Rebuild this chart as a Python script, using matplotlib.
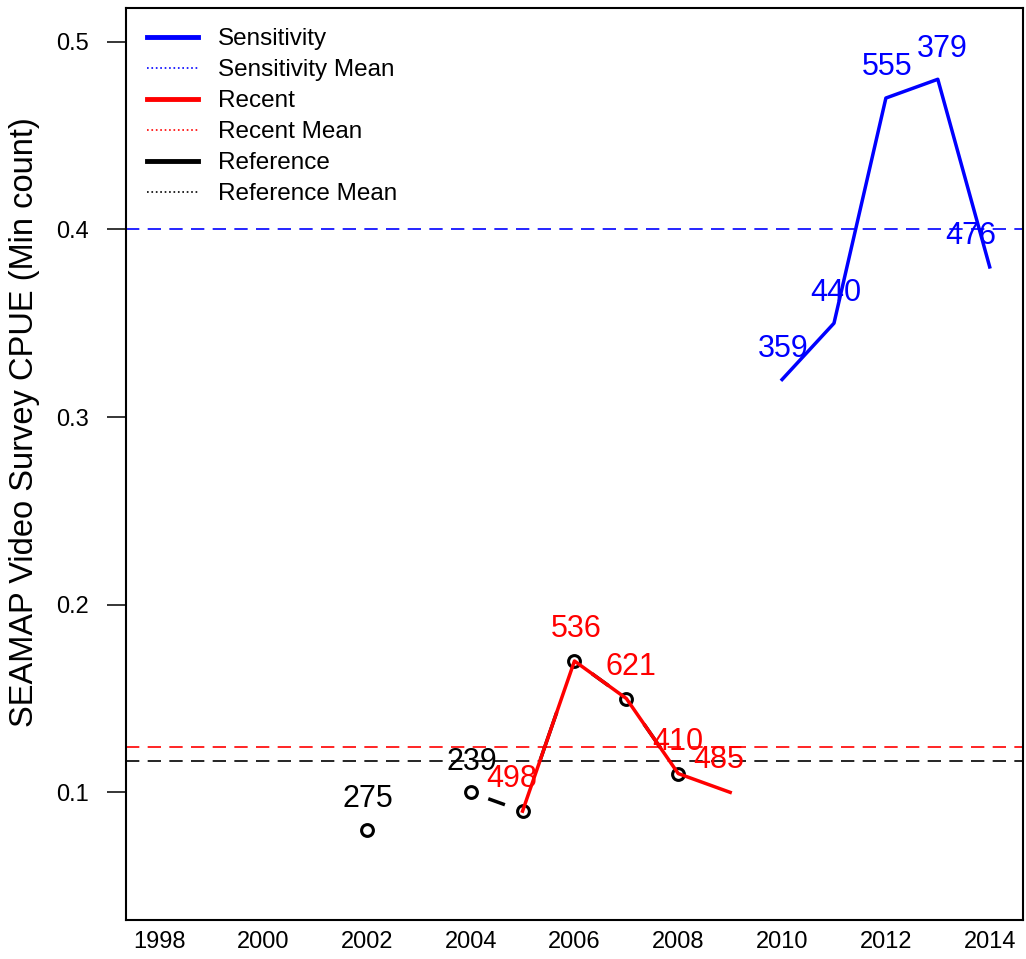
import numpy as np
import matplotlib
matplotlib.use("Agg")
import matplotlib.pyplot as plt
from matplotlib.lines import Line2D

plt.rcParams['font.family'] = ['Liberation Sans', 'DejaVu Sans']

# данные
sens_years = [2010, 2011, 2012, 2013, 2014]
sens_cpue = [0.32, 0.35, 0.47, 0.48, 0.38]
sens_n = ["359", "440", "555", "379", "476"]

recent_years = [2005, 2006, 2007, 2008, 2009]
recent_cpue = [0.09, 0.17, 0.15, 0.11, 0.10]
recent_n = ["498", "536", "621", "410", "485"]

ref_years = [2002, 2003, 2004, 2005, 2006, 2007, 2008]
ref_cpue = [0.08, np.nan, 0.10, 0.09, 0.17, 0.15, 0.11]
ref_n = ["275", "", "239", "", "", "", ""]

x_ticks = [1998, 2000, 2002, 2004, 2006, 2008, 2010, 2012, 2014]
y_ticks = [0.1, 0.2, 0.3, 0.4, 0.5]

# сдвиг подписей по x (в точках)
sens_dx = [1, 1, 1, 3, -14]
recent_dx = [-8, 1, 3, 0, -8]

BLUE = "#0000ff"
RED = "#ff0000"

fig = plt.figure(figsize=(10.26, 9.59), dpi=100)
ax = fig.add_axes([0.1228, 0.0407, 0.8742, 0.951])
ax.set_xlim(1997.36, 2014.64)
ax.set_ylim(0.032, 0.518)

# средние
ax.axhline(np.nanmean(sens_cpue), color=BLUE, lw=1.2, ls=(0, (8, 5)), zorder=1)
ax.axhline(np.nanmean(recent_cpue), color=RED, lw=1.2, ls=(0, (8, 5)), zorder=1)
ax.axhline(np.nanmean(ref_cpue), color="black", lw=1.2, ls=(0, (8, 5)), zorder=1)

# Reference: точки + линии с разрывами (как type="b")
ax.plot(ref_years, ref_cpue, ls="none", marker="o", ms=8.5, mfc="none",
        mec="black", mew=2.2, zorder=2)
gap = 0.34
for i in range(len(ref_years) - 1):
    x0, x1 = ref_years[i], ref_years[i + 1]
    y0, y1 = ref_cpue[i], ref_cpue[i + 1]
    if np.isnan(y0) or np.isnan(y1):
        continue
    ax.plot([x0 + gap * (x1 - x0), x1 - gap * (x1 - x0)],
            [y0 + gap * (y1 - y0), y1 - gap * (y1 - y0)],
            color="black", lw=2.5, solid_capstyle="butt", zorder=2)

ax.plot(recent_years, recent_cpue, color=RED, lw=2.5, zorder=3)
ax.plot(sens_years, sens_cpue, color=BLUE, lw=2.5, zorder=3)

# подписи количества
for x, y, t in zip(ref_years, ref_cpue, ref_n):
    if t:
        ax.annotate(t, (x, y), xytext=(1, 22), textcoords="offset points",
                    ha="center", va="center", fontsize=22, color="black", zorder=4)
for x, y, t, dx in zip(recent_years, recent_cpue, recent_n, recent_dx):
    ax.annotate(t, (x, y), xytext=(dx, 23), textcoords="offset points",
                ha="center", va="center", fontsize=22, color=RED, zorder=4)
for x, y, t, dx in zip(sens_years, sens_cpue, sens_n, sens_dx):
    ax.annotate(t, (x, y), xytext=(dx, 22), textcoords="offset points",
                ha="center", va="center", fontsize=22, color=BLUE, zorder=4)

ax.set_xticks(x_ticks)
ax.set_xticklabels([str(v) for v in x_ticks], fontsize=17)
ax.set_yticks(y_ticks)
ax.set_yticklabels([f"{v:.1f}" for v in y_ticks], fontsize=17)
ax.tick_params(axis="x", length=0, pad=8)
ax.tick_params(axis="y", length=13.5, width=1.1, pad=13)
for s in ax.spines.values():
    s.set_linewidth(1.5)

ax.set_ylabel("SEAMAP Video Survey CPUE (Min count)", fontsize=23.5, va="center")
ax.yaxis.set_label_coords(-0.113, 0.546)

handles = [
    Line2D([], [], color=BLUE, lw=3.5),
    Line2D([], [], color=BLUE, lw=1.2, ls=":"),
    Line2D([], [], color=RED, lw=3.5),
    Line2D([], [], color=RED, lw=1.2, ls=":"),
    Line2D([], [], color="black", lw=3.5),
    Line2D([], [], color="black", lw=1.2, ls=":"),
]
labels = ["Sensitivity", "Sensitivity Mean", "Recent", "Recent Mean",
          "Reference", "Reference Mean"]
ax.legend(handles, labels, loc="upper left", bbox_to_anchor=(0.023, 0.978),
          frameon=False, fontsize=17.5, handlelength=2.1, handletextpad=0.85,
          labelspacing=0.37, borderpad=0, borderaxespad=0)

fig.savefig("out.png", dpi=100)
